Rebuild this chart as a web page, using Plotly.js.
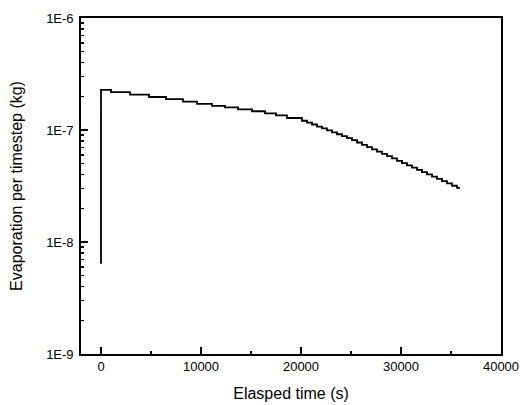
<!DOCTYPE html>
<html>
<head>
<meta charset="utf-8">
<script src="https://cdn.plot.ly/plotly-3.0.1.min.js"></script>
<style>html,body{margin:0;padding:0;background:#fff;}#chart{width:520px;height:405px;}</style>
</head>
<body>
<div id="chart"></div>
<script>
// Step starts (elapsed time, s)
const timeS = [0, 0, 1000, 2900, 4800, 6500, 8200, 9600, 11100, 12400, 13700, 15100, 16400, 17500, 18600, 20100,
  20600, 21100, 21600, 22100, 22600, 23100, 23600, 24100, 24600, 25100, 25600, 26100, 26600, 27100, 27600, 28100,
  28600, 29100, 29600, 30100, 30600, 31100, 31600, 32100, 32600, 33100, 33600, 34100, 34600, 35100, 35600, 35900];
// Evaporation per timestep (kg)
const evapKg = [6.4e-9, 2.28e-7, 2.18e-7, 2.07e-7, 1.97e-7, 1.89e-7, 1.79e-7, 1.71e-7, 1.64e-7, 1.59e-7, 1.53e-7, 1.47e-7, 1.41e-7, 1.35e-7, 1.28e-7, 1.21e-7,
  1.164e-7, 1.12e-7, 1.074e-7, 1.033e-7, 9.91e-8, 9.54e-8, 9.16e-8, 8.80e-8, 8.47e-8, 8.11e-8, 7.73e-8, 7.38e-8, 7.04e-8, 6.71e-8, 6.41e-8, 6.12e-8,
  5.84e-8, 5.57e-8, 5.31e-8, 5.07e-8, 4.84e-8, 4.62e-8, 4.41e-8, 4.21e-8, 4.02e-8, 3.83e-8, 3.66e-8, 3.49e-8, 3.34e-8, 3.18e-8, 3.04e-8, 3.04e-8];

const xTickVals = [0, 10000, 20000, 30000, 40000];
const xTickText = ['0', '10000', '20000', '30000', '40000'];
const xMinorVals = [5000, 15000, 25000, 35000];
const yTickVals = [1e-9, 1e-8, 1e-7, 1e-6];
const yTickText = ['1E-9', '1E-8', '1E-7', '1E-6'];
const yMinorVals = [];
[1e-9, 1e-8, 1e-7].forEach(d => { for (let k = 2; k <= 9; k++) yMinorVals.push(k * d); });

const fontFam = '"Liberation Sans", Arial, sans-serif';

Plotly.newPlot('chart', [{
  x: timeS, y: evapKg, type: 'scatter', mode: 'lines',
  line: {color: '#000', width: 1.8, shape: 'hv'},
  hoverinfo: 'skip'
}], {
  width: 520, height: 405,
  margin: {l: 81, r: 19, t: 18, b: 51},
  paper_bgcolor: '#fff', plot_bgcolor: '#fff',
  showlegend: false,
  font: {family: fontFam, color: '#000', size: 13},
  xaxis: {
    range: [-2000, 40000], showgrid: false, zeroline: false,
    showline: true, linecolor: '#000', linewidth: 1.8, mirror: true,
    ticks: 'inside', ticklen: 7, tickwidth: 1.3, tickcolor: '#000',
    tickvals: xTickVals, ticktext: xTickText,
    minor: {ticks: 'inside', ticklen: 3, tickwidth: 1.3, tickcolor: '#000', tickvals: xMinorVals, showgrid: false},
    tickfont: {size: 13, family: fontFam},
    title: {text: 'Elasped time (s)', font: {size: 16, family: fontFam}, standoff: 14}
  },
  yaxis: {
    type: 'log', range: [-9, -6], showgrid: false, zeroline: false,
    showline: true, linecolor: '#000', linewidth: 1.8, mirror: true,
    ticks: 'inside', ticklen: 7, tickwidth: 1.3, tickcolor: '#000',
    tickvals: yTickVals, ticktext: yTickText, ticklabelstandoff: 3,
    minor: {ticks: 'inside', ticklen: 3, tickwidth: 1.3, tickcolor: '#000', tickvals: yMinorVals, showgrid: false},
    tickfont: {size: 13, family: fontFam},
    title: {text: 'Evaporation per timestep (kg)', font: {size: 16, family: fontFam}, standoff: 19}
  }
}, {displayModeBar: false, staticPlot: true});
</script>
</body>
</html>
